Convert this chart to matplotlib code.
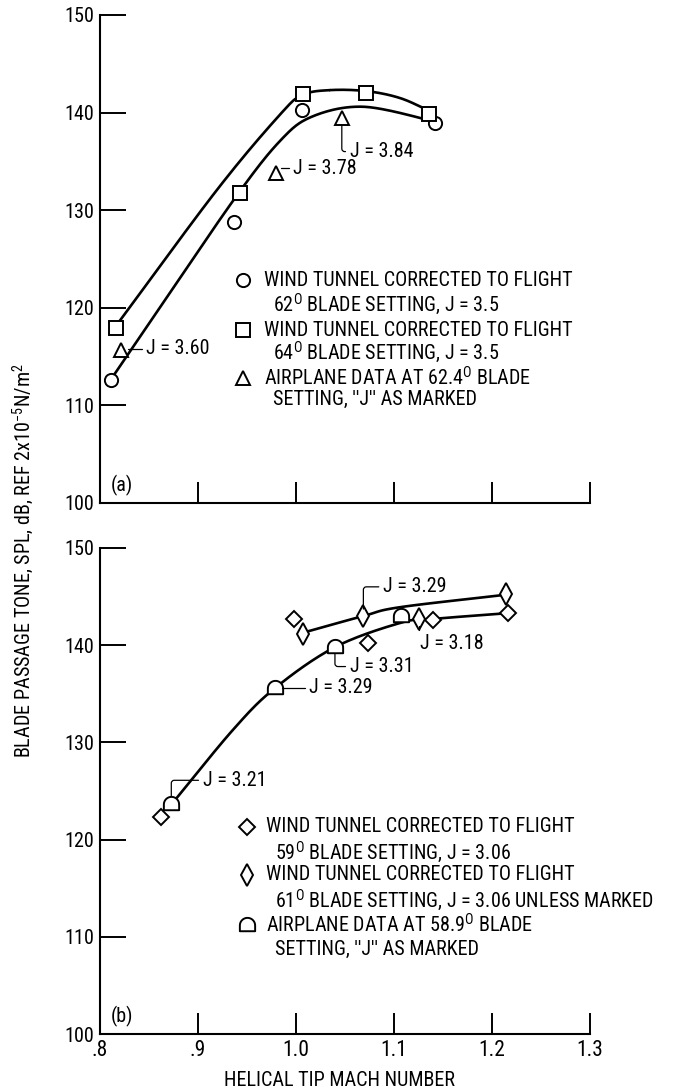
import numpy as np
import matplotlib
matplotlib.use("Agg")
import matplotlib.pyplot as plt
from matplotlib import font_manager
from matplotlib.path import Path

# ---- data ----
# (a) 62 deg / 64 deg wind tunnel, airplane at 62.4 deg
a_circ_x = [0.811, 0.937, 1.006, 1.142]
a_circ_y = [112.6, 128.8, 140.3, 138.9]
a_sq_x = [0.817, 0.943, 1.007, 1.072, 1.136]
a_sq_y = [117.9, 131.8, 141.9, 142.0, 139.9]
a_tri_x = [0.822, 0.980, 1.047]
a_tri_y = [115.7, 133.8, 139.4]
a_tri_j = ["J = 3.60", "J = 3.78", "J = 3.84"]

# faired curves (a)
a_up_x = [0.817, 0.919, 0.984, 1.007, 1.035, 1.072, 1.106, 1.136]
a_up_y = [118.2, 132.0, 139.8, 141.8, 142.3, 142.2, 141.5, 140.2]
a_lo_x = [0.811, 0.851, 0.937, 0.984, 1.017, 1.068, 1.133, 1.142]
a_lo_y = [112.6, 118.5, 131.1, 137.1, 139.6, 140.6, 139.3, 138.9]

# (b) 59 deg / 61 deg wind tunnel, airplane at 58.9 deg
b_dia_x = [0.862, 0.998, 1.074, 1.140, 1.217]
b_dia_y = [122.3, 142.7, 140.2, 142.6, 143.3]
b_thin_x = [1.007, 1.069, 1.126, 1.215]
b_thin_y = [141.2, 143.0, 142.7, 145.3]
b_air_x = [0.873, 0.979, 1.040, 1.107]
b_air_y = [123.7, 135.6, 139.8, 143.0]

b_up_x = [1.008, 1.069, 1.106, 1.215]
b_up_y = [141.3, 143.0, 143.9, 145.2]
b_lo_x = [0.873, 0.936, 0.979, 1.040, 1.107, 1.140, 1.217]
b_lo_y = [123.6, 131.3, 135.6, 139.8, 142.3, 142.7, 143.3]

xticks = [0.8, 0.9, 1.0, 1.1, 1.2, 1.3]
xticklabels = [".8", ".9", "1.0", "1.1", "1.2", "1.3"]
yticks = [100, 110, 120, 130, 140, 150]

# ---- font: a narrow face like the typed original ----
names = {f.name for f in font_manager.fontManager.ttflist}
FONT = "DejaVu Sans"
for cand in ["Roboto Condensed", "Open Sans Condensed", "Fira Sans Condensed"]:
    if cand in names:
        FONT = cand
        break
plt.rcParams["font.family"] = [FONT, "DejaVu Sans"]
plt.rcParams["mathtext.fontset"] = "custom"
plt.rcParams["mathtext.rm"] = FONT
plt.rcParams["mathtext.it"] = FONT
FS = 14.5


def smooth(xs, ys, n=25):
    # catmull-rom through faired points
    pts = np.column_stack([xs, ys]).astype(float)
    p = np.vstack([2 * pts[0] - pts[1], pts, 2 * pts[-1] - pts[-2]])
    t = np.linspace(0, 1, n)[:, None]
    out = []
    for i in range(1, len(p) - 2):
        p0, p1, p2, p3 = p[i - 1], p[i], p[i + 1], p[i + 2]
        seg = 0.5 * (2 * p1 + (-p0 + p2) * t + (2 * p0 - 5 * p1 + 4 * p2 - p3) * t ** 2
                     + (-p0 + 3 * p1 - 3 * p2 + p3) * t ** 3)
        out.append(seg)
    out = np.vstack(out)
    return out[:, 0], out[:, 1]


# D-shaped marker (round top, flat bottom)
ang = np.linspace(0, np.pi, 20)
dverts = np.column_stack([np.cos(ang), np.sin(ang)])
dverts = np.vstack([dverts, [[-1, -0.75], [1, -0.75], [1, 0]]])
DMARK = Path(dverts)

MK = dict(mfc="white", mec="black", mew=1.4, ls="none", zorder=3, clip_on=False)


def setup(ax):
    ax.set_xlim(0.8, 1.3)
    ax.set_ylim(100, 150)
    ax.spines["top"].set_visible(False)
    ax.spines["right"].set_visible(False)
    for s in ("left", "bottom"):
        ax.spines[s].set_linewidth(1.5)
    ax.set_yticks(yticks)
    ax.set_xticks(xticks)
    ax.tick_params(axis="y", direction="in", length=19, width=1.4, labelsize=FS, pad=4)
    ax.tick_params(axis="x", direction="in", length=15, width=1.4, labelsize=FS + 1, pad=4)


def jlabel(ax, text, xy, xytext):
    ax.annotate(text, xy=xy, xytext=xytext, fontsize=FS, va="center", ha="left",
                arrowprops=dict(arrowstyle="-", lw=0.9, shrinkA=1, shrinkB=5,
                                connectionstyle="angle,angleA=0,angleB=90,rad=3"))


fig = plt.figure(figsize=(6.74, 10.92), dpi=100)
axa = fig.add_axes([0.148, 0.5394, 0.727, 0.4469])
axb = fig.add_axes([0.148, 0.0531, 0.727, 0.4451])

# ---- (a) ----
setup(axa)
axa.set_xticklabels([])
x, y = smooth(a_up_x, a_up_y)
axa.plot(x, y, color="black", lw=1.9)
x, y = smooth(a_lo_x, a_lo_y)
axa.plot(x, y, color="black", lw=1.9)
axa.plot(a_circ_x, a_circ_y, marker="o", ms=9.5, **MK)
axa.plot(a_sq_x, a_sq_y, marker="s", ms=9.5, **MK)
axa.plot(a_tri_x, a_tri_y, marker="^", ms=10, **MK)
jlabel(axa, a_tri_j[0], (a_tri_x[0], a_tri_y[0]), (0.847, 115.8))
jlabel(axa, a_tri_j[1], (a_tri_x[1], a_tri_y[1]), (0.997, 134.3))
jlabel(axa, a_tri_j[2], (a_tri_x[2], a_tri_y[2]), (1.055, 136.0))
axa.text(0.811, 101.8, "(a)", fontsize=FS, va="center")

leg_a = [
    ("o", r"WIND TUNNEL CORRECTED TO FLIGHT", r"62$^{\rm O}$ BLADE SETTING, J = 3.5"),
    ("s", r"WIND TUNNEL CORRECTED TO FLIGHT", r"64$^{\rm O}$ BLADE SETTING, J = 3.5"),
    ("^", r"AIRPLANE DATA AT 62.4$^{\rm O}$ BLADE", r"SETTING, ''J'' AS MARKED"),
]
ly = [122.8, 120.4, 117.7, 115.4, 112.8, 110.6]
for i, (m, l1, l2) in enumerate(leg_a):
    axa.plot([0.946], [ly[2 * i]], marker=m, ms=9.5, **MK)
    axa.text(0.968, ly[2 * i], l1, fontsize=FS, va="center")
    axa.text(0.977, ly[2 * i + 1], l2, fontsize=FS, va="center")

# ---- (b) ----
setup(axb)
axb.set_xticklabels(xticklabels)
x, y = smooth(b_up_x, b_up_y)
axb.plot(x, y, color="black", lw=1.9)
x, y = smooth(b_lo_x, b_lo_y)
axb.plot(x, y, color="black", lw=1.9)
axb.plot(b_dia_x, b_dia_y, marker="D", ms=8, **MK)
axb.plot(b_thin_x, b_thin_y, marker="d", ms=11, **MK)
axb.plot(b_air_x, b_air_y, marker=DMARK, ms=11, **MK)
jlabel(axb, "J = 3.29", (b_thin_x[1], b_thin_y[1]), (1.089, 146.0))
jlabel(axb, "J = 3.18", (b_thin_x[2], b_thin_y[2]), (1.127, 140.2))
jlabel(axb, "J = 3.31", (b_air_x[2], b_air_y[2]), (1.055, 137.8))
jlabel(axb, "J = 3.29", (b_air_x[1], b_air_y[1]), (1.014, 135.6))
jlabel(axb, "J = 3.21", (b_air_x[0], b_air_y[0]), (0.905, 126.1))
axb.text(0.811, 101.8, "(b)", fontsize=FS, va="center")

leg_b = [
    ("D", 8, r"WIND TUNNEL CORRECTED TO FLIGHT", r"59$^{\rm O}$ BLADE SETTING, J = 3.06"),
    ("d", 11, r"WIND TUNNEL CORRECTED TO FLIGHT", r"61$^{\rm O}$ BLADE SETTING, J = 3.06 UNLESS MARKED"),
    (DMARK, 11, r"AIRPLANE DATA AT 58.9$^{\rm O}$ BLADE", r"SETTING, ''J'' AS MARKED"),
]
lyb = [121.3, 118.7, 116.4, 113.8, 111.2, 108.7]
for i, (m, ms, l1, l2) in enumerate(leg_b):
    axb.plot([0.95], [lyb[2 * i]], marker=m, ms=ms, **MK)
    axb.text(0.970, lyb[2 * i], l1, fontsize=FS, va="center")
    axb.text(0.979, lyb[2 * i + 1], l2, fontsize=FS, va="center")

fig.text(0.034, 0.487, r"BLADE PASSAGE TONE, SPL, dB, REF 2x10$^{-5}$N/m$^2$",
         rotation=90, fontsize=FS, ha="center", va="center")
fig.text(0.504, 0.002, "HELICAL TIP MACH NUMBER", fontsize=FS, ha="center", va="bottom")

fig.savefig("out.png", dpi=100)
